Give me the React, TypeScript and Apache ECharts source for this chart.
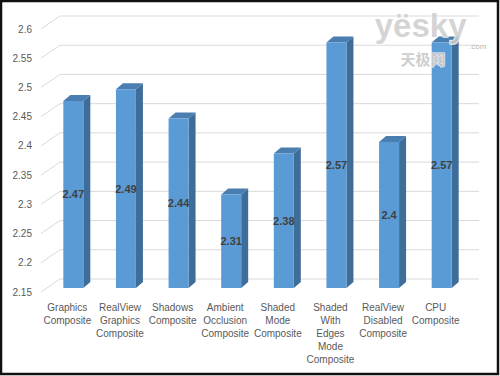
import React, { useEffect, useRef } from "react";
import * as echarts from "echarts";

const categories = [
  "Graphics\nComposite",
  "RealView\nGraphics\nComposite",
  "Shadows\nComposite",
  "Ambient\nOcclusion\nComposite",
  "Shaded\nMode\nComposite",
  "Shaded\nWith\nEdges\nMode\nComposite",
  "RealView\nDisabled\nComposite",
  "CPU\nComposite",
];
const values = [2.47, 2.49, 2.44, 2.31, 2.38, 2.57, 2.4, 2.57];
const yTicks = [2.15, 2.2, 2.25, 2.3, 2.35, 2.4, 2.45, 2.5, 2.55, 2.6];

const WALL_DX = 19;
const WALL_DY = -13;
const BAR_OX = 6;
const BAR_OY = -4;
const BAR_W = 20;
const SIDE_DX = 7;
const SIDE_DY = -6;

export default function App() {
  const ref = useRef<HTMLDivElement>(null);
  useEffect(() => {
    document.body.style.margin = "0";
    const chart = echarts.init(ref.current!, null, { renderer: "svg" });
    const yMin = yTicks[0];
    const yMax = yTicks[yTicks.length - 1];
    chart.setOption({
      animation: false,
      backgroundColor: "#ffffff",
      grid: { left: 41, top: 29, width: 421, height: 263, containLabel: false },
      xAxis: {
        type: "category",
        data: categories,
        axisLine: { show: false },
        axisTick: { show: false },
        axisLabel: {
          interval: 0,
          color: "#595959",
          fontSize: 10,
          lineHeight: 13,
          margin: 9,
          fontFamily: "Liberation Sans, Arial, sans-serif",
        },
      },
      yAxis: {
        type: "value",
        min: yMin,
        max: yMax,
        interval: 0.05,
        splitLine: { show: false },
        axisLine: { show: false },
        axisTick: { show: false },
        axisLabel: {
          color: "#595959",
          fontSize: 10,
          margin: 9,
          fontFamily: "Liberation Sans, Arial, sans-serif",
          formatter: (v: number) => String(+v.toFixed(2)),
        },
      },
      graphic: [
        {
          type: "text",
          left: 374,
          top: 8,
          z: 100,
          silent: true,
          style: {
            text: "yësky",
            font: "bold 33px 'Liberation Sans', Arial, sans-serif",
            fill: "rgba(205,205,205,0.85)",
            stroke: "rgba(255,255,255,0.9)",
            lineWidth: 1.5,
          },
        },
        {
          type: "text",
          left: 400,
          top: 50,
          z: 100,
          silent: true,
          style: {
            text: "天极网",
            font: "bold 15px 'Noto Sans CJK SC', sans-serif",
            fill: "rgba(200,200,200,0.9)",
            stroke: "rgba(255,255,255,0.9)",
            lineWidth: 1,
          },
        },
        {
          type: "text",
          left: 469,
          top: 42,
          z: 100,
          silent: true,
          style: {
            text: ".com",
            font: "8px 'Liberation Sans', Arial, sans-serif",
            fill: "rgba(170,170,170,0.9)",
          },
        },
        {
          type: "rect",
          z: 101,
          silent: true,
          shape: { x: 1, y: 1, width: 497, height: 373 },
          style: { fill: "none", stroke: "#111111", lineWidth: 2.5 },
        },
      ],
      series: [
        {
          type: "custom",
          z: 1,
          clip: false,
          silent: true,
          data: yTicks.map((t) => [0, t]),
          renderItem: (params: any, api: any) => {
            const cs = params.coordSys;
            const p = api.coord([0, api.value(1)]);
            return {
              type: "polyline",
              shape: {
                points: [
                  [cs.x, p[1]],
                  [cs.x + WALL_DX, p[1] + WALL_DY],
                  [cs.x + cs.width + WALL_DX - 2, p[1] + WALL_DY],
                ],
              },
              style: { stroke: "#D9D9D9", lineWidth: 1, fill: "none" },
            };
          },
        },
        {
          type: "custom",
          z: 2,
          clip: false,
          data: values.map((v, i) => [i, v]),
          renderItem: (params: any, api: any) => {
            const i = api.value(0);
            const v = api.value(1);
            const top = api.coord([i, v]);
            const bot = api.coord([i, yMin]);
            const cx = top[0] + BAR_OX;
            const x0 = cx - BAR_W / 2;
            const x1 = cx + BAR_W / 2;
            const yt = top[1] + BAR_OY;
            const yb = bot[1] + BAR_OY;
            return {
              type: "group",
              children: [
                {
                  type: "polygon",
                  shape: {
                    points: [
                      [x1, yt],
                      [x1 + SIDE_DX, yt + SIDE_DY],
                      [x1 + SIDE_DX, yb + SIDE_DY],
                      [x1, yb],
                    ],
                  },
                  style: { fill: "#3F6D99" },
                },
                {
                  type: "polygon",
                  shape: {
                    points: [
                      [x0, yt],
                      [x0 + SIDE_DX, yt + SIDE_DY],
                      [x1 + SIDE_DX, yt + SIDE_DY],
                      [x1, yt],
                    ],
                  },
                  style: { fill: "#4A7DB0" },
                },
                {
                  type: "rect",
                  shape: { x: x0, y: yt, width: BAR_W, height: yb - yt },
                  style: { fill: "#5B9BD5" },
                },
                {
                  type: "text",
                  x: cx,
                  y: (yt + yb) / 2,
                  style: {
                    text: String(v),
                    font: "bold 11px 'Liberation Sans', Arial, sans-serif",
                    fill: "#404040",
                    align: "center",
                    verticalAlign: "middle",
                  },
                },
              ],
            };
          },
        },
      ],
    });
    return () => chart.dispose();
  }, []);
  return <div ref={ref} style={{ width: 500, height: 376 }} />;
}
